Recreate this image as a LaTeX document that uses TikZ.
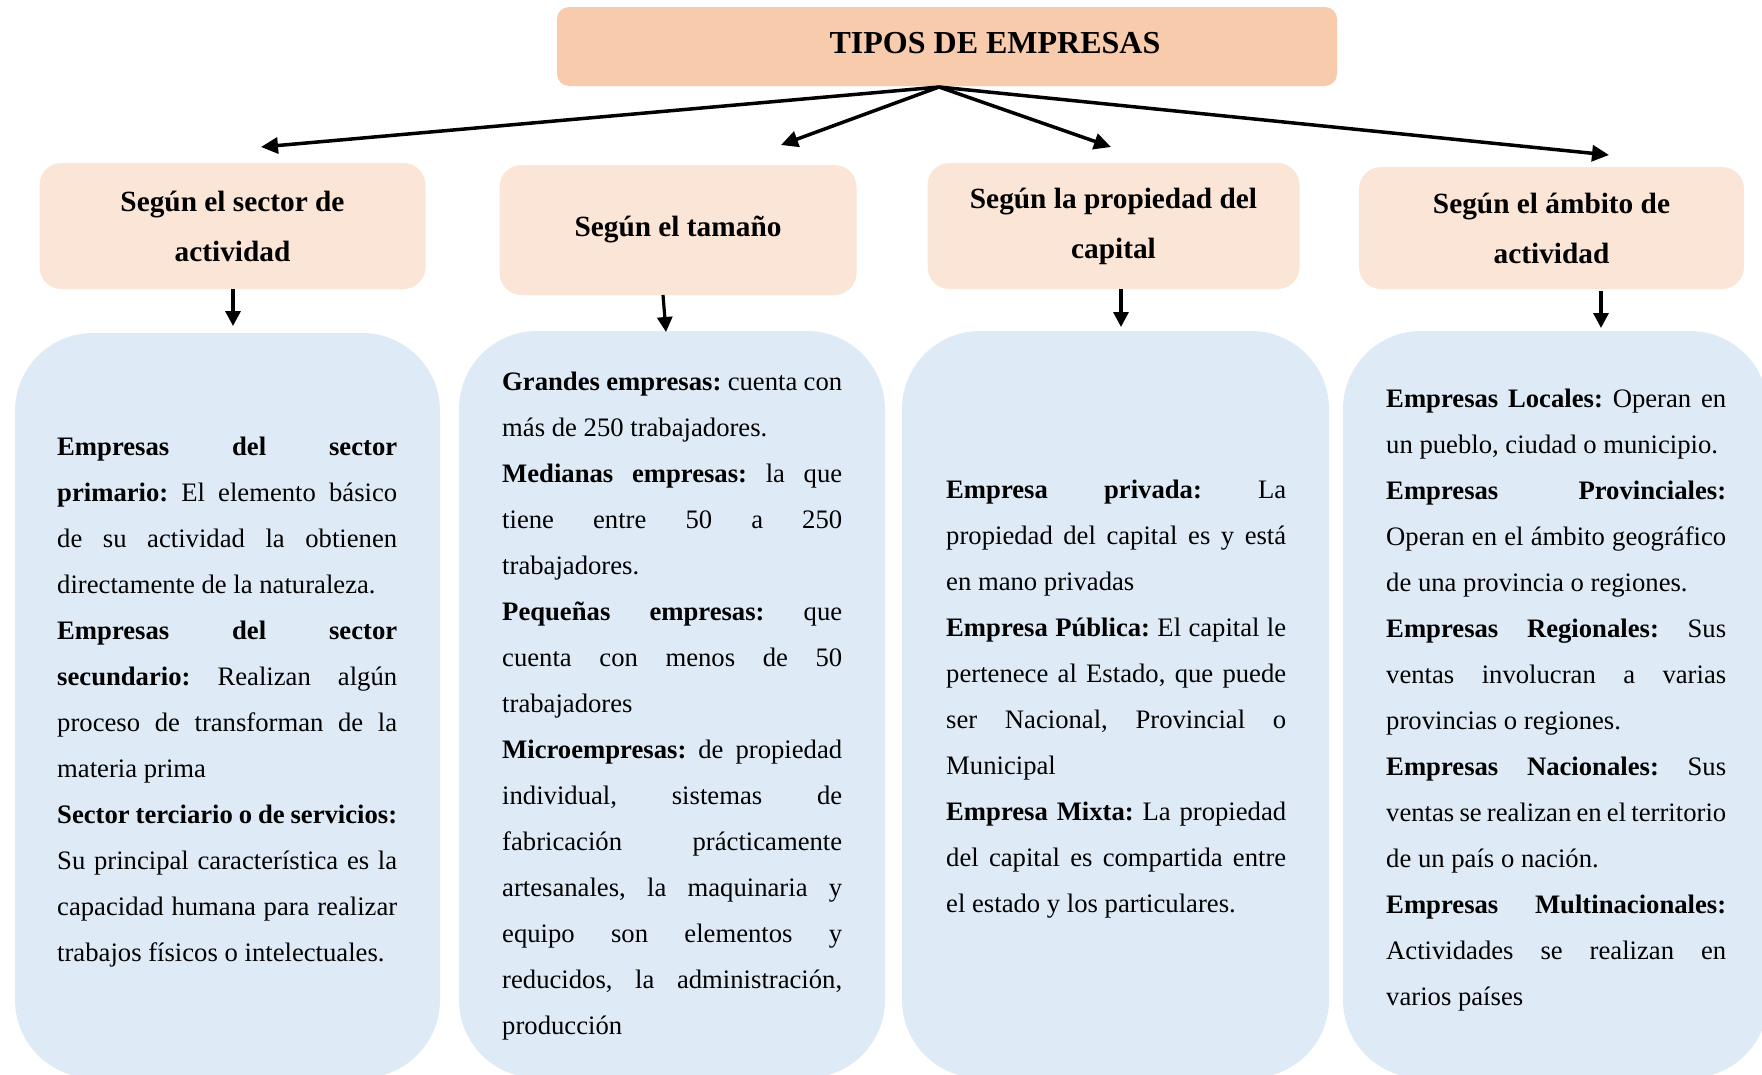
\documentclass[tikz,border=0pt]{standalone}
\usepackage{fontspec}
\setmainfont{Liberation Serif}
\usetikzlibrary{arrows.meta}
\definecolor{titlefill}{HTML}{F8CBAD}
\definecolor{headfill}{HTML}{FBE5D6}
\definecolor{bodyfill}{HTML}{DEEBF7}
\newcommand{\rs}{\spaceskip=0pt\xspaceskip=0pt\frenchspacing\hyphenpenalty=10000\relax}
\newcommand{\jl}[1]{\makebox[340pt][s]{\rs #1}}
\tikzset{
  titlebox/.style={fill=titlefill, draw=none, rounded corners=12pt, minimum width=780pt, minimum height=79pt, inner sep=0pt},
  titletxt/.style={inner sep=0pt, font=\fontsize{32}{38}\selectfont\bfseries},
  headbox/.style={fill=headfill, draw=none, rounded corners=22pt, inner sep=0pt, align=center, font=\fontsize{29.33}{50}\selectfont\bfseries},
  bodybox/.style={fill=bodyfill, draw=none, rounded corners=78pt, inner sep=0pt},
  bodytext/.style={text width=340pt, align=left, inner sep=0pt, anchor=base west, font=\fontsize{26.67}{46}\selectfont},
  conn/.style={line width=3.5pt, -{Triangle[length=17pt,width=16pt]}},
  vconn/.style={line width=3.2pt, -{Triangle[length=15pt,width=15pt]}},
}
\begin{document}
\begin{tikzpicture}[x=1pt,y=-1pt]
\useasboundingbox (0,0) rectangle (1762,1074);
\clip (0,0) rectangle (1762,1074);

% title
\node[titlebox] (title) at (947,46.5) {};
\node[titletxt, anchor=base] (titletext) at (995,53) {TIPOS DE EMPRESAS};

% headers
\node[headbox, minimum width=386pt, minimum height=126pt] (h1) at (232.5,226) {\rs Según el sector de\\actividad};
\node[headbox, minimum width=357pt, minimum height=130pt] (h2) at (678,230) {\rs Según el tamaño};
\node[headbox, minimum width=372pt, minimum height=126pt] (h3) at (1113.5,226) {\rs Según la propiedad del\\capital};
\node[headbox, minimum width=385pt, minimum height=122pt] (h4) at (1551.5,228) {\rs Según el ámbito de\\actividad};

% body boxes
\node[bodybox, minimum width=425pt, minimum height=745pt] (b1) at (227.5,705.5) {};
\node[bodybox, minimum width=426pt, minimum height=747pt] (b2) at (672,704.5) {};
\node[bodybox, minimum width=427pt, minimum height=747pt] (b3) at (1115.5,704.5) {};
\node[bodybox, minimum width=425pt, minimum height=747pt] (b4) at (1555.5,704.5) {};

% body texts
\node[bodytext] (t1) at (57,455) {\rs
\jl{\textbf{Empresas del sector}}\\
\jl{\textbf{primario:} El elemento básico}\\
\jl{de su actividad la obtienen}\\
directamente de la naturaleza.\\
\jl{\textbf{Empresas del sector}}\\
\jl{\textbf{secundario:} Realizan algún}\\
\jl{proceso de transforman de la}\\
materia prima\\
\jl{\textbf{Sector terciario o de servicios:}}\\
\jl{Su principal característica es la}\\
\jl{capacidad humana para realizar}\\
trabajos físicos o intelectuales.};

\node[bodytext] (t2) at (502,390) {\rs
\jl{\textbf{Grandes empresas:} cuenta con}\\
más de 250 trabajadores.\\
\jl{\textbf{Medianas empresas:} la que}\\
\jl{tiene entre 50 a 250}\\
trabajadores.\\
\jl{\textbf{Pequeñas empresas:} que}\\
\jl{cuenta con menos de 50}\\
trabajadores\\
\jl{\textbf{Microempresas:} de propiedad}\\
\jl{individual, sistemas de}\\
\jl{fabricación prácticamente}\\
\jl{artesanales, la maquinaria y}\\
\jl{equipo son elementos y}\\
\jl{reducidos, la administración,}\\
producción};

\node[bodytext] (t3) at (946,498) {\rs
\jl{\textbf{Empresa privada:} La}\\
\jl{propiedad del capital es y está}\\
en mano privadas\\
\jl{\textbf{Empresa Pública:} El capital le}\\
\jl{pertenece al Estado, que puede}\\
\jl{ser Nacional, Provincial o}\\
Municipal\\
\jl{\textbf{Empresa Mixta:} La propiedad}\\
\jl{del capital es compartida entre}\\
el estado y los particulares.};

\node[bodytext] (t4) at (1386,407) {\rs
\jl{\textbf{Empresas Locales:} Operan en}\\
un pueblo, ciudad o municipio.\\
\jl{\textbf{Empresas Provinciales:}}\\
\jl{Operan en el ámbito geográfico}\\
de una provincia o regiones.\\
\jl{\textbf{Empresas Regionales:} Sus}\\
\jl{ventas involucran a varias}\\
provincias o regiones.\\
\jl{\textbf{Empresas Nacionales:} Sus}\\
\jl{ventas se realizan en el territorio}\\
de un país o nación.\\
\jl{\textbf{Empresas Multinacionales:}}\\
\jl{Actividades se realizan en}\\
varios países};

% connectors from title
\coordinate (apex) at (939,87);
\coordinate (e1) at (261,147);
\coordinate (e2) at (781,145);
\coordinate (e3) at (1111,147);
\coordinate (e4) at (1609,155);
\draw[conn] (apex) -- (e1);
\draw[conn] (apex) -- (e2);
\draw[conn] (apex) -- (e3);
\draw[conn] (apex) -- (e4);

% connectors from headers
\coordinate (s1) at (233,289);
\coordinate (s2) at (663,295);
\coordinate (s3) at (1121,289);
\coordinate (s4) at (1601,291);
\coordinate (f1) at (233,326);
\coordinate (f2) at (666,332);
\coordinate (f3) at (1121,327);
\coordinate (f4) at (1601,328);
\draw[vconn] (s1) -- (f1);
\draw[vconn] (s2) -- (f2);
\draw[vconn] (s3) -- (f3);
\draw[vconn] (s4) -- (f4);
\end{tikzpicture}
\end{document}
